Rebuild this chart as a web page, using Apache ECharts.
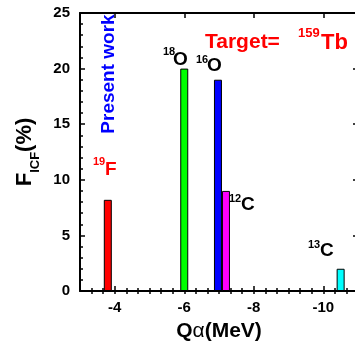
<!DOCTYPE html>
<html>
<head>
<meta charset="utf-8">
<script src="https://cdn.jsdelivr.net/npm/echarts@6/dist/echarts.min.js"></script>
<style>
html, body { margin: 0; padding: 0; background: #fff; }
#chart { width: 355px; height: 345px; }
</style>
</head>
<body>
<div id="chart"></div>
<script>
// Q-alpha (MeV) of each channel and its ICF fraction (%)
var qValues = [-3.8, -6.0, -6.97, -7.2, -10.5]
var fValues = [8.2, 20.0, 19.0, 9.0, 2.0]
var barColors = ['#ff0000', '#00ff00', '#0000ff', '#ff00ff', '#00ffff']
var xMajorTicks = [-10, -8, -6, -4]

var font = '"Liberation Sans", Arial, sans-serif'

// minor ticks every 1/3 MeV between the frame edges
var xMinorTicks = []
for (var k = 1; k < 24; k++) {
    xMinorTicks.push(-3 - k / 3)
}

var chart = echarts.init(document.getElementById('chart'))

function majorX(pos, labels) {
    return {
        type: 'value', min: -11, max: -3, inverse: true, position: pos,
        axisLine: { show: true, onZero: false, lineStyle: { color: '#000', width: 2 } },
        axisTick: { show: true, inside: true, length: 5, customValues: xMajorTicks, lineStyle: { color: '#000', width: 1.5 } },
        axisLabel: labels ? { customValues: xMajorTicks, color: '#000', fontWeight: 'bold', fontSize: 15, fontFamily: font, margin: 9 } : { show: false },
        splitLine: { show: false }
    }
}
function minorX(pos) {
    return {
        type: 'value', min: -11, max: -3, inverse: true, position: pos,
        axisLine: { show: false },
        axisTick: { show: true, inside: true, length: 3, customValues: xMinorTicks, lineStyle: { color: '#000', width: 1.5 } },
        axisLabel: { show: false },
        splitLine: { show: false }
    }
}
function yAx(pos, labels) {
    return {
        type: 'value', min: 0, max: 25, interval: 5, position: pos,
        axisLine: { show: true, onZero: false, lineStyle: { color: '#000', width: 2 } },
        axisTick: { show: true, inside: true, length: 5, lineStyle: { color: '#000', width: 1.5 } },
        minorTick: { show: true, splitNumber: 5, length: 3, lineStyle: { color: '#000', width: 1.5 } },
        axisLabel: labels ? { color: '#000', fontWeight: 'bold', fontSize: 15, fontFamily: font, margin: 10 } : { show: false },
        splitLine: { show: false },
        minorSplitLine: { show: false }
    }
}

var xBottom = majorX('bottom', true)
xBottom.name = '{a|Q}{g|α}{a|(MeV)}'
xBottom.nameLocation = 'middle'
xBottom.nameGap = 30
xBottom.nameTextStyle = {
    rich: {
        a: { fontSize: 21, fontWeight: 'bold', fontFamily: font, color: '#000' },
        g: { fontSize: 21, fontFamily: font, color: '#000' }
    }
}

var yLeft = yAx('left', true)
yLeft.name = '{a|F}{b|ICF}{a|(%)}'
yLeft.nameLocation = 'middle'
yLeft.nameGap = 42
yLeft.nameRotate = 90
yLeft.nameTextStyle = {
    rich: {
        a: { fontSize: 22, fontWeight: 'bold', fontFamily: font, color: '#000', verticalAlign: 'bottom' },
        b: { fontSize: 13, fontWeight: 'bold', fontFamily: font, color: '#000', verticalAlign: 'bottom', padding: [0, 0, -6, 0] }
    }
}

function label(x, y, text, size, color, extra) {
    var el = {
        type: 'text', x: x, y: y, z: 100,
        style: {
            text: text, fill: color, font: 'bold ' + size + 'px ' + font,
            textAlign: 'left', textVerticalAlign: 'middle'
        }
    }
    if (extra) {
        for (var key in extra) el[key] = extra[key]
    }
    return el
}

var option = {
    animation: false,
    grid: { left: 80, right: -3, top: 13, bottom: 54, outerBoundsMode: 'none', containLabel: false },
    xAxis: [xBottom, minorX('bottom'), majorX('top', false), minorX('top')],
    yAxis: [yLeft, yAx('right', false)],
    series: [
        {
            type: 'bar',
            xAxisIndex: 0,
            yAxisIndex: 0,
            barWidth: 8,
            itemStyle: { borderColor: '#000', borderWidth: 1 },
            data: qValues.map(function (q, i) {
                return { value: [q, fValues[i]], itemStyle: { color: barColors[i] } }
            })
        }
    ],
    graphic: [
        label(205, 42.5, 'Target=', 21, '#ff0000'),
        label(298, 33, '159', 13, '#ff0000'),
        label(321, 42.5, 'Tb', 22, '#ff0000'),
        label(109, 74, 'Present work', 19, '#0000ff', { rotation: Math.PI / 2, style: { text: 'Present work', fill: '#0000ff', font: 'bold 19px ' + font, textAlign: 'center', textVerticalAlign: 'middle' } }),
        label(93, 162, '19', 11, '#ff0000'),
        label(105, 170, 'F', 19, '#ff0000'),
        label(163, 52, '18', 11, '#000'),
        label(173, 60, 'O', 19, '#000'),
        label(196, 59.5, '16', 11, '#000'),
        label(207, 66, 'O', 19, '#000'),
        label(229, 198.5, '12', 11, '#000'),
        label(241, 205, 'C', 19, '#000'),
        label(308, 244.5, '13', 11, '#000'),
        label(320, 251, 'C', 19, '#000')
    ]
}
chart.setOption(option)
</script>
</body>
</html>
